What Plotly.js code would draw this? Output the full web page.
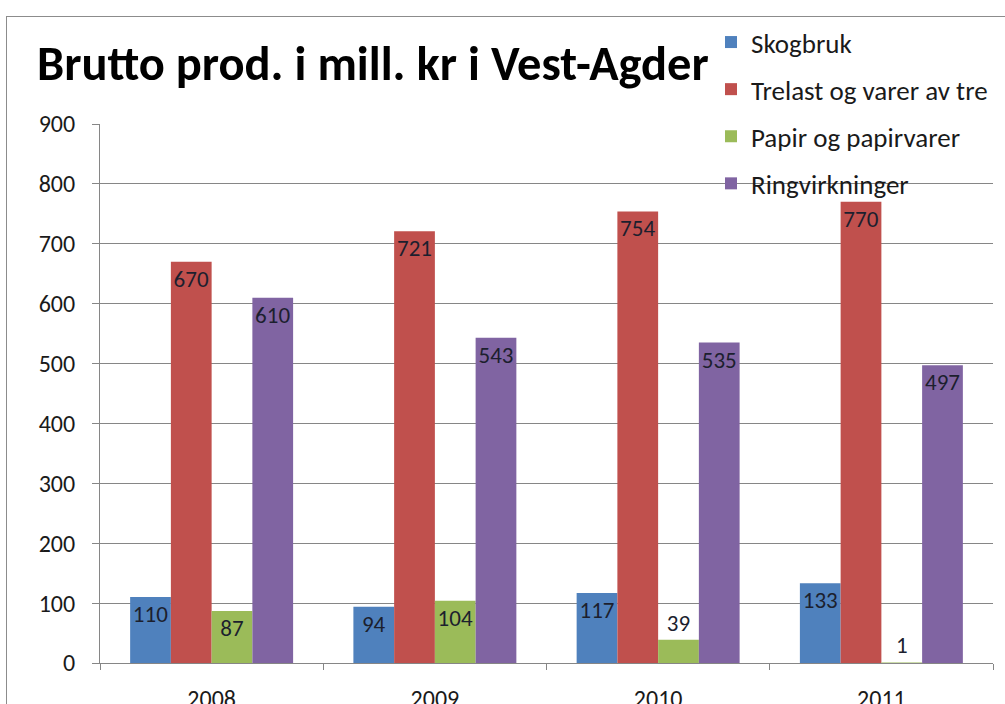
<!DOCTYPE html>
<html>
<head>
<meta charset="utf-8">
<script src="https://cdn.plot.ly/plotly-3.0.1.min.js"></script>
<style>
  html, body { margin: 0; padding: 0; width: 1005px; height: 704px; overflow: hidden; background: #fff; }
  #frame { position: absolute; left: 6px; top: 16px; width: 1100px; height: 800px; border: 1px solid #8c8c8c; }
  #chart { position: absolute; left: 0; top: 0; width: 1000px; height: 700px; }
</style>
</head>
<body>
<div id="frame"><div id="chart"></div></div>
<script>
const years = ['2008', '2009', '2010', '2011'];
const seriesNames = ['Skogbruk', 'Trelast og varer av tre', 'Papir og papirvarer', 'Ringvirkninger'];
const skogbruk = [110, 94, 117, 133];
const trelast = [670, 721, 754, 770];
const papir = [87, 104, 39, 1];
const ringvirkninger = [610, 543, 535, 497];
const yTicks = [0, 100, 200, 300, 400, 500, 600, 700, 800, 900];
const titleText = 'Brutto prod. i mill. kr i Vest-Agder';

const colors = ['#4F81BD', '#C0504D', '#9BBB59', '#8064A2'];
const allValues = [skogbruk, trelast, papir, ringvirkninger];
const FONT = 'Carlito, "Open Sans", sans-serif';

const traces = allValues.map((vals, i) => ({
  type: 'bar',
  name: seriesNames[i],
  legendgroup: 'g' + i,
  x: years,
  y: vals,
  text: vals.map(String),
  textposition: vals.map(v => v < 60 ? 'outside' : 'inside'),
  insidetextanchor: 'end',
  constraintext: 'none',
  cliponaxis: false,
  textangle: 0,
  textfont: { family: FONT, size: 23, color: '#1c1f2e' },
  outsidetextfont: { family: FONT, size: 23, color: '#1c1f2e' },
  marker: { color: colors[i], line: { width: 0 } },
  hoverinfo: 'x+y+name'
}));

const layout = {
  width: 1000,
  height: 700,
  margin: { l: 93, r: 14, t: 107, b: 54, pad: 0, autoexpand: false },
  paper_bgcolor: 'rgba(0,0,0,0)',
  plot_bgcolor: 'rgba(0,0,0,0)',
  barmode: 'group',
  bargap: 0.27,
  bargroupgap: 0,
  font: { family: FONT, color: '#1a1a1a' },
  title: {
    text: titleText,
    font: { family: FONT, size: 48.5, weight: 'bold', color: '#000' },
    xref: 'container', x: 0.03, xanchor: 'left',
    yref: 'container', y: 1 - 46 / 700, yanchor: 'middle'
  },
  showlegend: true,
  legend: {
    xref: 'container', x: 0.704, xanchor: 'left',
    yref: 'container', y: 1 - 1 / 700, yanchor: 'top',
    traceorder: 'grouped',
    tracegroupgap: 9,
    itemwidth: 30,
    bgcolor: 'rgba(0,0,0,0)',
    font: { family: FONT, size: 27, color: '#1a1a1a' }
  },
  xaxis: {
    type: 'category',
    tickson: 'boundaries',
    ticks: 'outside',
    ticklen: 6,
    tickcolor: '#868686',
    showline: true,
    linecolor: '#868686',
    linewidth: 1,
    showgrid: false,
    tickfont: { family: FONT, size: 24, color: '#1a1a1a' },
    ticklabelstandoff: 14,
    fixedrange: true
  },
  yaxis: {
    range: [0, 900],
    tickvals: yTicks,
    ticktext: yTicks.map(String),
    ticks: 'outside',
    ticklen: 7,
    tickcolor: '#868686',
    showline: true,
    linecolor: '#868686',
    linewidth: 1,
    showgrid: true,
    gridcolor: '#868686',
    gridwidth: 1,
    zeroline: false,
    tickfont: { family: FONT, size: 24, color: '#1a1a1a' },
    ticklabelstandoff: 12,
    fixedrange: true
  }
};

Plotly.newPlot('chart', traces, layout, { displayModeBar: false, staticPlot: true });
</script>
</body>
</html>
